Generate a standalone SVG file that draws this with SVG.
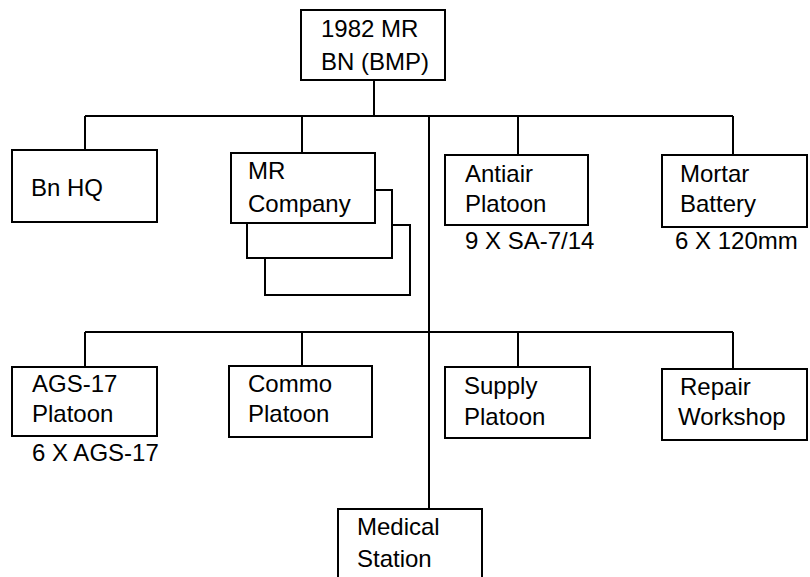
<svg xmlns="http://www.w3.org/2000/svg" width="810" height="577" viewBox="0 0 810 577">
<style>
.box{fill:#fff;stroke:#000;stroke-width:2}
.ln{fill:none;stroke:#000;stroke-width:2}
text{font-family:"Liberation Sans",Arial,sans-serif;font-size:24px;fill:#000}
</style>
<rect width="810" height="577" fill="#fff"/>
<g id="connectors">
<path class="ln" d="M374 80V116M85 116H733M85 116V150M302 116V153M518 116V155M733 116V155M429 116V509"/>
<path class="ln" d="M85 332H733M85 332V367M302 332V366M518 332V367M733 332V369"/>
</g>
<g id="bn">
<rect class="box" x="301" y="10" width="144" height="70"/>
<text x="321" y="37">1982 MR</text>
<text x="321" y="70">BN (BMP)</text>
</g>
<g id="bnhq">
<rect class="box" x="12" y="150" width="145" height="72"/>
<text x="31" y="196">Bn HQ</text>
</g>
<g id="mrco">
<rect class="box" x="265" y="225" width="145" height="70"/>
<rect class="box" x="247" y="190" width="145" height="68"/>
<rect class="box" x="231" y="153" width="144" height="70"/>
<text x="248" y="179">MR</text>
<text x="248" y="212">Company</text>
</g>
<g id="antiair">
<rect class="box" x="445" y="155" width="143" height="70"/>
<text x="465" y="182">Antiair</text>
<text x="465" y="212">Platoon</text>
<text x="465" y="249">9 X SA-7/14</text>
</g>
<g id="mortar">
<rect class="box" x="662" y="155" width="145" height="72"/>
<text x="680" y="182">Mortar</text>
<text x="680" y="212">Battery</text>
<text x="675" y="249">6 X 120mm</text>
</g>
<g id="ags">
<rect class="box" x="12" y="367" width="145" height="69"/>
<text x="32" y="392">AGS-17</text>
<text x="32" y="422">Platoon</text>
<text x="32" y="461">6 X AGS-17</text>
</g>
<g id="commo">
<rect class="box" x="229" y="366" width="143" height="71"/>
<text x="248" y="392">Commo</text>
<text x="248" y="422">Platoon</text>
</g>
<g id="supply">
<rect class="box" x="445" y="367" width="145" height="71"/>
<text x="464" y="394">Supply</text>
<text x="464" y="425">Platoon</text>
</g>
<g id="repair">
<rect class="box" x="662" y="369" width="145" height="71"/>
<text x="680" y="395">Repair</text>
<text x="678" y="425">Workshop</text>
</g>
<g id="medical">
<path class="ln" d="M338 580V509H482V580"/>
<text x="357" y="535">Medical</text>
<text x="357" y="567">Station</text>
</g>
</svg>
